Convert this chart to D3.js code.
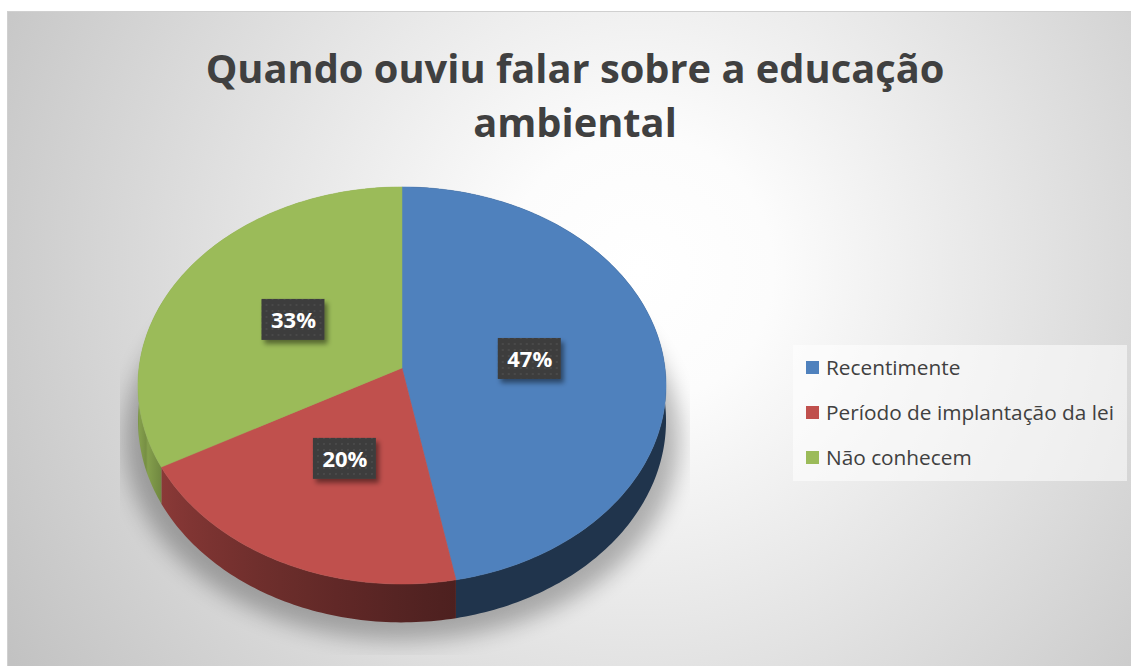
<!DOCTYPE html>
<html>
<head>
<meta charset="utf-8">
<script src="https://cdn.jsdelivr.net/npm/d3@7"></script>
<style>
  body { margin: 0; background: #fff; }
  svg { display: block; }
</style>
</head>
<body>
<div id="chart"></div>
<script>
// data
var categories = ["Recentimente", "Período de implantação da lei", "Não conhecem"];
var values = [47, 20, 33];
var labels = ["47%", "20%", "33%"];
var colors = ["#4F81BD", "#C0504D", "#9BBB59"];
var titleLines = ["Quando ouviu falar sobre a educação", "ambiental"];

var svgWidth = 1131;
var svgHeight = 666;

var svg = d3
  .select("#chart")
  .append("svg")
  .attr("width", svgWidth)
  .attr("height", svgHeight);

var defs = svg.append("defs");

// chart area background (radial grey gradient)
var bg = defs
  .append("radialGradient")
  .attr("id", "bgGrad")
  .attr("gradientUnits", "userSpaceOnUse")
  .attr("cx", 640)
  .attr("cy", 270)
  .attr("r", 740);
bg.append("stop").attr("offset", 0).attr("stop-color", "#ffffff");
bg.append("stop").attr("offset", 0.18).attr("stop-color", "#fcfcfc");
bg.append("stop").attr("offset", 1).attr("stop-color", "#c2c2c2");

svg
  .append("rect")
  .attr("x", 7.5)
  .attr("y", 11.5)
  .attr("width", svgWidth)
  .attr("height", svgHeight)
  .attr("fill", "url(#bgGrad)")
  .attr("stroke", "#d0d0d0")
  .attr("stroke-width", 1);

// 3D pie projection (simple perspective on a tilted disc)
var cx = 402,
  cy = 368,
  persp = 0.088,
  ry = 197,
  rx = 263,
  depth = 35;

function project(theta, r, z) {
  var u = r * Math.sin(theta);
  var v = -r * Math.cos(theta);
  var w = 1 - persp * v;
  return [cx + (rx * u) / w, cy + (ry * v + depth * z) / w];
}

function arcPoints(a0, a1, z) {
  var n = Math.max(2, Math.ceil(Math.abs(a1 - a0) / (Math.PI / 180)));
  var pts = [];
  for (var i = 0; i <= n; i++) {
    pts.push(project(a0 + ((a1 - a0) * i) / n, 1, z));
  }
  return pts;
}

var pie = d3.pie().sort(null).value((d) => d);
var arcs = pie(values);

// shadow under the pie
var shadowFilter = defs.append("filter").attr("id", "pieShadow")
  .attr("x", "-30%").attr("y", "-30%").attr("width", "160%").attr("height", "160%");
shadowFilter.append("feGaussianBlur").attr("stdDeviation", 11);

defs
  .append("clipPath")
  .attr("id", "shadowClip")
  .append("rect")
  .attr("x", 120)
  .attr("y", 150)
  .attr("width", 570)
  .attr("height", 505);

var shadowPts = arcPoints(0, 2 * Math.PI, 1).map((p) => [
  cx + (p[0] - cx) * 1.05,
  p[1] + 18,
]);
svg
  .append("g")
  .attr("clip-path", "url(#shadowClip)")
  .append("path")
  .attr("d", d3.line()(shadowPts) + "Z")
  .attr("fill", "#000")
  .attr("opacity", 0.28)
  .attr("filter", "url(#pieShadow)");

// side wall shading: darker toward the front
function shade(theta) {
  var deg = (theta * 180) / Math.PI;
  if (deg <= 170) return 0.4;
  return Math.min(0.85, 0.4 + ((deg - 170) / 100) * 0.45);
}

var pieGroup = svg.append("g");

arcs.forEach(function (d, i) {
  var gid = "wall" + i;
  var grad = defs
    .append("linearGradient")
    .attr("id", gid)
    .attr("gradientUnits", "userSpaceOnUse")
    .attr("x1", 0)
    .attr("x2", svgWidth)
    .attr("y1", 0)
    .attr("y2", 0);
  var steps = 12;
  var stops = [];
  for (var s = 0; s <= steps; s++) {
    var t = d.startAngle + ((d.endAngle - d.startAngle) * s) / steps;
    var p = project(t, 1, 0);
    stops.push({ x: p[0], c: d3.interpolateRgb("#000", colors[i])(shade(t)) });
  }
  stops.sort((a, b) => a.x - b.x);
  stops.forEach(function (st) {
    grad
      .append("stop")
      .attr("offset", st.x / svgWidth)
      .attr("stop-color", st.c);
  });

  var top = arcPoints(d.startAngle, d.endAngle, 0);
  var bottom = arcPoints(d.endAngle, d.startAngle, 1);
  pieGroup
    .append("path")
    .attr("d", d3.line()(top.concat(bottom)) + "Z")
    .attr("fill", "url(#" + gid + ")");
});

arcs.forEach(function (d, i) {
  var pts = [project(0, 0, 0)].concat(arcPoints(d.startAngle, d.endAngle, 0));
  pieGroup
    .append("path")
    .attr("d", d3.line()(pts) + "Z")
    .attr("fill", colors[i])
    .attr("stroke", colors[i])
    .attr("stroke-width", 0.5);
});

// data labels
var dots = defs
  .append("pattern")
  .attr("id", "dots")
  .attr("patternUnits", "userSpaceOnUse")
  .attr("width", 6)
  .attr("height", 6);
dots.append("rect").attr("width", 6).attr("height", 6).attr("fill", "#3d3d3d");
dots.append("circle").attr("cx", 3).attr("cy", 3).attr("r", 0.8).attr("fill", "#585858");

var boxShadow = defs.append("filter").attr("id", "boxShadow")
  .attr("x", "-30%").attr("y", "-30%").attr("width", "170%").attr("height", "180%");
boxShadow
  .append("feDropShadow")
  .attr("dx", 3)
  .attr("dy", 4)
  .attr("stdDeviation", 2.5)
  .attr("flood-color", "#000")
  .attr("flood-opacity", 0.45);

var labelGroup = svg.append("g");
arcs.forEach(function (d, i) {
  var mid = (d.startAngle + d.endAngle) / 2;
  var p = project(mid, 0.49, 0);
  var g = labelGroup.append("g").attr("transform", `translate(${p[0]}, ${p[1]})`);
  g.append("rect")
    .attr("x", -32)
    .attr("y", -21)
    .attr("width", 63)
    .attr("height", 41)
    .attr("fill", "url(#dots)")
    .attr("filter", "url(#boxShadow)");
  g.append("text")
    .attr("text-anchor", "middle")
    .attr("y", 8)
    .attr("fill", "#ffffff")
    .style("font-family", "'Open Sans', sans-serif")
    .style("font-weight", "bold")
    .style("font-size", "22px")
    .text(labels[i]);
});

// title
var titleGroup = svg.append("g");
var titleY = [83, 137];
var titleSize = 46;
titleLines.forEach(function (line, i) {
  titleGroup
    .append("text")
    .attr("x", 575)
    .attr("y", titleY[i])
    .attr("text-anchor", "middle")
    .attr("fill", "#404040")
    .style("font-family", "'Open Sans', sans-serif")
    .style("font-weight", "bold")
    .style("font-size", titleSize + "px")
    .text(line);
});
// fit the first line to the width seen in the picture
var firstLen = titleGroup.select("text").node().getComputedTextLength();
titleSize = (titleSize * 739) / firstLen;
titleGroup.selectAll("text").style("font-size", titleSize + "px");

// legend
var legend = svg.append("g").attr("transform", "translate(793, 345)");
legend
  .append("rect")
  .attr("width", 334)
  .attr("height", 136)
  .attr("fill", "#ffffff")
  .attr("opacity", 0.55);

var legendItems = legend
  .selectAll("g.item")
  .data(categories)
  .enter()
  .append("g")
  .attr("class", "item")
  .attr("transform", (d, i) => `translate(13, ${23 + i * 45})`);

legendItems
  .append("rect")
  .attr("x", 0)
  .attr("y", -7)
  .attr("width", 13)
  .attr("height", 13)
  .attr("fill", (d, i) => colors[i]);

var legendText = legendItems
  .append("text")
  .attr("x", 20)
  .attr("y", 7)
  .attr("fill", "#404040")
  .style("font-family", "'Open Sans', sans-serif")
  .style("font-size", "19px")
  .text((d) => d);

var longest = legendText.nodes()[1].getComputedTextLength();
legendText.style("font-size", (19 * 288) / longest + "px");
</script>
</body>
</html>
